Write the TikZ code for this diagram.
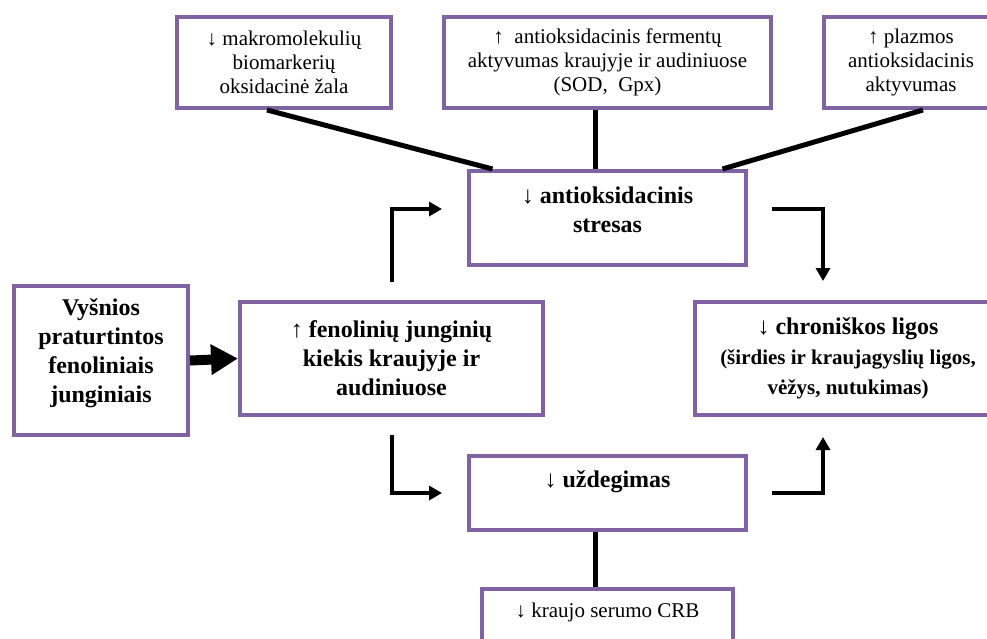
\documentclass[tikz,border=0pt]{standalone}
\usepackage{fontspec}
\setmainfont{Liberation Serif}
\usetikzlibrary{arrows.meta,positioning,calc}
\definecolor{lilac}{HTML}{8064A2}
\tikzset{
  bnode/.style={rectangle,draw=lilac,fill=white,line width=4pt,align=center,
    inner xsep=4pt,inner ysep=0pt},
  nnode/.style={bnode,font=\fontsize{21}{24}\selectfont},
  mnode/.style={bnode,font=\bfseries\fontsize{24}{29}\selectfont},
  ledge/.style={line width=5pt,black},
  aedge/.style={-{Triangle[length=13pt,width=14pt]},line width=4pt,black},
  fatedge/.style={-{Triangle[length=27pt,width=29pt]},line width=10pt,black},
}
\begin{document}
\begin{tikzpicture}[x=1pt,y=-1pt]
  \path[use as bounding box,clip] (0,0) rectangle (987,638);

  % top row
  \node[nnode,minimum width=214pt,minimum height=91pt] (makro) at (284,62.5)
    {↓ makromolekulių\\biomarkerių\\oksidacinė žala};
  \node[nnode,minimum width=327pt,minimum height=91pt] (ferm) at (607.5,62.5)
    {↑\ \ antioksidacinis fermentų\\aktyvumas kraujyje ir audiniuose\\(SOD,\ \ Gpx)};
  \node[nnode,minimum width=174pt,minimum height=91pt] (plaz) at (911,62.5)
    {↑ plazmos\\antioksidacinis\\aktyvumas};

  % middle
  \node[mnode,anchor=north,minimum width=277pt,text height=61pt,text depth=33pt] (stres) at (607.5,169)
    {↓ antioksidacinis\\stresas};
  \node[mnode,anchor=north,minimum width=174pt,text height=116pt,text depth=33pt] (vys) at (101,284)
    {Vyšnios\\praturtintos\\fenoliniais\\junginiais};
  \node[mnode,minimum width=303pt,minimum height=113pt] (fen) at (391.5,358.5)
    {↑ fenolinių junginių\\kiekis kraujyje ir\\audiniuose};
  \node[mnode,minimum width=306pt,minimum height=113pt,font=\bfseries\fontsize{21}{30}\selectfont] (chr) at (848,358.5)
    {{\fontsize{24}{29}\selectfont ↓ chroniškos ligos}\\(širdies ir kraujagyslių ligos,\\vėžys, nutukimas)};
  \node[mnode,anchor=north,minimum width=277pt,text height=31pt,text depth=43pt] (uzd) at (607.5,454)
    {↓ uždegimas};
  \node[nnode,anchor=north,minimum width=251pt,text height=28pt,text depth=50pt] (crb) at (607.5,587)
    {↓ kraujo serumo CRB};

  % links to the stress box
  \draw[ledge] ([xshift=-17pt]makro.south) -- ([xshift=-115pt]stres.north);
  \draw[ledge] ([xshift=-12.5pt]ferm.south) -- ([xshift=-12.5pt]stres.north);
  \draw[ledge] ([xshift=12pt]plaz.south) -- ([xshift=115pt]stres.north);
  \draw[ledge] ([xshift=-12.5pt]uzd.south) -- ([xshift=-12.5pt]crb.north);

  % arrows
  \draw[fatedge] (vys.east) -- (fen.west);
  \draw[aedge] ([yshift=18pt]fen.north) |- ([xshift=-25pt,yshift=9pt]stres.west);
  \draw[aedge] ([xshift=24pt,yshift=9pt]stres.east) -| ([xshift=-25pt,yshift=19pt]chr.north);
  \draw[aedge] ([yshift=-18pt]fen.south) |- ([xshift=-25pt]uzd.west);
  \draw[aedge] ([xshift=24pt]uzd.east) -| ([xshift=-25pt,yshift=-20pt]chr.south);
\end{tikzpicture}
\end{document}
